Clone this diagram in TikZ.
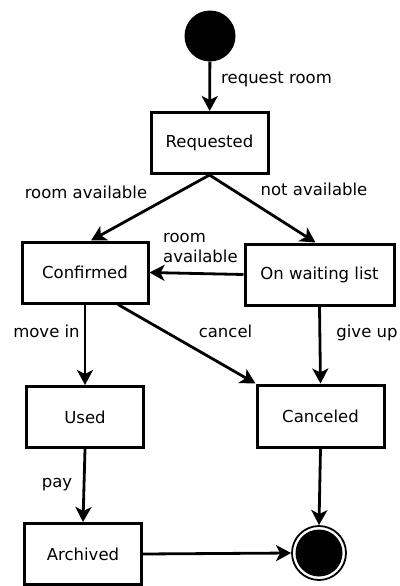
\documentclass[tikz,border=0pt]{standalone}
\usepackage{fontspec}
\setmainfont{DejaVu Sans}
\usetikzlibrary{arrows.meta}

\begin{document}
\begin{tikzpicture}[x=1pt, y=-1pt,
    state/.style={draw, line width=3pt, rectangle, minimum width=117pt, minimum height=61pt, inner sep=0pt},
    lbl/.style={inner sep=0pt, text height=12pt, text depth=4pt},
    arr/.style={line width=2.8pt, -{Stealth[length=15pt, width=16pt, inset=4pt]}},
    font=\fontsize{16.5}{19.5}\selectfont]
            \useasboundingbox (0,0) rectangle (399,586);
            % states
            \node[circle, fill, minimum size=51pt, inner sep=0pt] (start) at (210,36) {};
            \node[state] (requested) at (209.5,143) {Requested};
            \node[state, minimum width=126pt] (confirmed) at (85,272.5) {Confirmed};
            \node[state, minimum width=149pt] (waiting) at (319.5,274.5) {On waiting list};
            \node[state] (used) at (85,417) {Used};
            \node[state, minimum width=127pt, minimum height=62pt] (canceled) at (320.5,416) {Canceled};
            \node[state] (archived) at (83,554) {Archived};
            \node[circle, draw, line width=1.8pt, minimum size=54pt, inner sep=0pt] (final) at (319,553) {};
            \fill (final.center) circle (23.5);
            % transitions
            \draw[arr] (start) -- (requested);
            \draw[arr] (requested.south) -- ([xshift=6]confirmed.north);
            \draw[arr] (requested.south) -- ([xshift=-4]waiting.north);
            \draw[arr] (waiting.west) -- (confirmed.east);
            \draw[arr] (confirmed.south) -- (used.north);
            \draw[arr] ([xshift=33]confirmed.south) -- (canceled.north west);
            \draw[arr] (waiting.south) -- (canceled.north);
            \draw[arr] (used.south) -- (archived.north);
            \draw[arr] (canceled.south) -- (final.north);
            \draw[arr] (archived.east) -- (final.west);
            % labels
            \node[lbl, anchor=west] (l-request) at (221,80) {request room};
            \node[lbl] (l-roomav) at (86,194) {room available};
            \node[lbl] (l-notav) at (314,191) {not available};
            \node[lbl, anchor=west, align=left, text height=, text depth=] (l-roomav2) at (163,248) {room\\available};
            \node[lbl] (l-movein) at (46.5,333) {move in};
            \node[lbl] (l-cancel) at (225.5,333) {cancel};
            \node[lbl] (l-giveup) at (367,333) {give up};
            \node[lbl] (l-pay) at (57,483) {pay};
        \end{tikzpicture}
\end{document}
